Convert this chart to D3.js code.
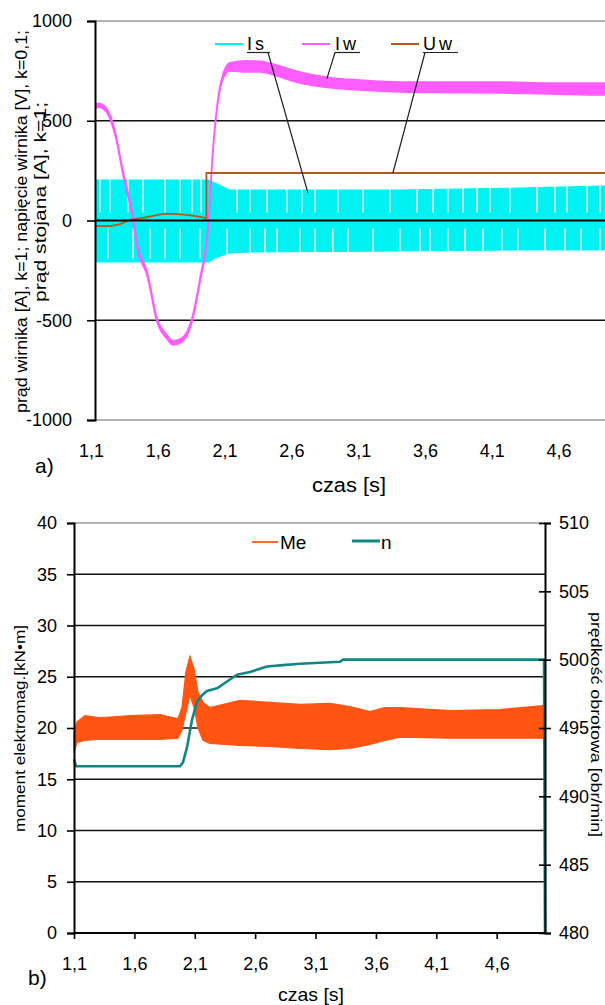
<!DOCTYPE html>
<html><head><meta charset="utf-8">
<script src="https://cdn.jsdelivr.net/npm/d3@7"></script>
<style>
body{margin:0;background:#fff}
svg{display:block}
text{font-family:"Liberation Sans",Arial,sans-serif;fill:#000}
</style>
</head><body>
<svg id="c" width="605" height="1005"></svg>
<script>
// ---------------- DATA ----------------
const timeTicks = [1.1, 1.6, 2.1, 2.6, 3.1, 3.6, 4.1, 4.6];
const timeTickLabels = ["1,1", "1,6", "2,1", "2,6", "3,1", "3,6", "4,1", "4,6"];

// chart a)
const topYTicks = [-1000, -500, 0, 500, 1000];
const topSeriesNames = ["Is", "Iw", "Uw"];

// Is (stator current) envelope
const isT  = [1.13, 1.964, 1.985, 2.028, 2.14, 2.29, 3.413, 4.311, 4.95, 5.0];
const isHi = [203, 203, 203, 188, 153, 153, 153, 163, 173, 173];
const isLo = [-208, -208, -208, -188, -163, -158, -153, -148, -148, -148];
// thin white sampling gaps visible in the Is band
const isGapUp = [1.167, 1.242, 1.377, 1.489, 1.654, 1.766, 1.856, 1.923, 2.193, 2.290, 2.417, 2.567, 2.679, 2.777, 2.949, 3.136, 3.338, 3.540, 3.660, 3.772, 3.884, 3.989, 4.087, 4.236, 4.438, 4.573, 4.663, 4.813, 4.910];
const isGapDown = [1.227, 1.414, 1.542, 1.654, 1.766, 1.916, 2.118, 2.290, 2.402, 2.492, 2.664, 2.777, 2.910, 3.024, 3.211, 3.413, 3.563, 3.638, 3.772, 3.899, 4.034, 4.176, 4.296, 4.498, 4.648, 4.768, 4.910];

// Iw (rotor current) band
const iwT  = [1.13, 1.16, 1.19, 1.22, 1.28, 1.34, 1.407, 1.452, 1.519, 1.594, 1.669, 1.714, 1.781, 1.856, 1.916, 1.975, 2.013, 2.051, 2.088, 2.14, 2.268, 2.365, 2.515, 2.664, 2.911, 3.113, 3.413, 3.787, 4.161, 4.536, 4.947, 5.0];
const iwHi = [584, 588, 580, 560, 449, 248, 48, -138, -253, -489, -574, -604, -589, -489, -288, -38, 363, 614, 734, 790, 800, 798, 774, 744, 714, 704, 694, 694, 694, 689, 689, 689];
const iwLo = [564, 568, 560, 540, 429, 228, 28, -158, -273, -509, -594, -624, -609, -509, -308, -58, 343, 594, 709, 750, 745, 745, 719, 689, 664, 654, 644, 641, 639, 634, 629, 629];

// Uw (rotor voltage, k=0.1)
const uwT = [1.13, 1.242, 1.317, 1.392, 1.489, 1.564, 1.639, 1.729, 1.819, 1.916, 1.953, 1.964, 1.964, 5.0];
const uwV = [-28, -28, -18, 3, 13, 23, 33, 33, 28, 18, 13, 13, 238, 238];

// callout anchors (t, value) for the series labels
const calloutT = [2.724, 2.866, 3.36];
const calloutV = [138, 711, 238];

// chart b)
const botLeftTicks = [0, 5, 10, 15, 20, 25, 30, 35, 40];
const botRightTicks = [480, 485, 490, 495, 500, 505, 510];
const botSeriesNames = ["Me", "n"];

// Me (electromagnetic torque) band
const meT  = [1.1, 1.125, 1.191, 1.315, 1.564, 1.812, 1.961, 1.994, 2.027, 2.06, 2.094, 2.127, 2.168, 2.226, 2.475, 2.723, 2.971, 3.22, 3.385, 3.551, 3.675, 3.799, 4.213, 4.627, 5.0];
const meHi = [19.6, 20.6, 21.2, 21.0, 21.2, 21.3, 20.9, 22.0, 25.5, 27.0, 25.8, 23.5, 22.5, 22.0, 22.7, 22.5, 22.3, 22.4, 22.1, 21.6, 22.0, 22.0, 21.7, 21.8, 22.2];
const meLo = [17.6, 18.6, 18.8, 18.9, 18.9, 18.9, 19.0, 19.8, 21.5, 23.2, 22.0, 20.0, 18.8, 18.5, 18.3, 18.2, 18.0, 17.9, 18.0, 18.4, 18.8, 19.1, 19.0, 19.0, 19.0];

// n (speed, obr/min)
const nT = [1.1, 1.117, 1.978, 2.003, 2.036, 2.077, 2.118, 2.16, 2.201, 2.284, 2.367, 2.45, 2.557, 2.698, 2.831, 2.971, 3.303, 3.327, 4.917, 4.992, 5.0];
const nV = [492.7, 492.2, 492.2, 492.5, 493.6, 495.6, 496.9, 497.4, 497.7, 497.9, 498.4, 498.9, 499.1, 499.5, 499.6, 499.7, 499.85, 500.0, 500.0, 500.0, 480];

// ---------------- DRAW ----------------
const svg = d3.select('#c');
svg.append('rect').attr('width', 605).attr('height', 1005).attr('fill', '#fff');
const zip3 = (t, a, b) => t.map((d, i) => ({t: d, a: a[i], b: b ? b[i] : null}));

const C = {is: '#00f2f2', iw: '#ff5cff', uw: '#b8561e', me: '#ff5412', n: '#138585'};

// ===== chart a) =====
const TA = {l: 95, r: 605, t: 21, b: 420};
const xTop = d3.scaleLinear().domain([1.1, 5.0]).range([91, 612]);
const yTop = d3.scaleLinear().domain([-1000, 1000]).range([TA.b, TA.t]);
const gA = svg.append('g');
gA.append('clipPath').attr('id', 'clipA').append('rect')
  .attr('x', TA.l).attr('y', TA.t - 3).attr('width', TA.r - TA.l).attr('height', TA.b - TA.t + 6);

// gridlines
topYTicks.forEach(v => {
  const edge = (v === 1000 || v === -1000);
  gA.append('line').attr('x1', TA.l).attr('x2', TA.r).attr('y1', yTop(v)).attr('y2', yTop(v))
    .attr('stroke', edge ? '#9a9a9a' : '#111').attr('stroke-width', edge ? 1.5 : 1.6);
});

const pA = gA.append('g').attr('clip-path', 'url(#clipA)');
// Is band
pA.append('path').datum(zip3(isT, isHi, isLo))
  .attr('d', d3.area().x(d => xTop(d.t)).y0(d => yTop(d.b)).y1(d => yTop(d.a)))
  .attr('fill', C.is).attr('stroke', C.is).attr('stroke-width', 1);
// sampling gaps
pA.selectAll('.gu').data(isGapUp).join('line')
  .attr('x1', d => xTop(d)).attr('x2', d => xTop(d))
  .attr('y1', yTop(40)).attr('y2', yTop(260)).attr('stroke', '#fff').attr('stroke-width', 1.3);
pA.selectAll('.gd').data(isGapDown).join('line')
  .attr('x1', d => xTop(d)).attr('x2', d => xTop(d))
  .attr('y1', yTop(-40)).attr('y2', yTop(-190)).attr('stroke', '#fff').attr('stroke-width', 1.3);
// zero axis over Is
gA.append('line').attr('x1', TA.l).attr('x2', TA.r).attr('y1', yTop(0)).attr('y2', yTop(0))
  .attr('stroke', '#000').attr('stroke-width', 1.8);
// Iw band
pA.append('path').datum(zip3(iwT, iwHi, iwLo))
  .attr('d', d3.area().curve(d3.curveMonotoneX).x(d => xTop(d.t)).y0(d => yTop(d.b)).y1(d => yTop(d.a)))
  .attr('fill', C.iw).attr('stroke', C.iw).attr('stroke-width', 1.6).attr('stroke-linejoin', 'round');
// Uw line
pA.append('path').datum(zip3(uwT, uwV))
  .attr('d', d3.line().x(d => xTop(d.t)).y(d => yTop(d.a)))
  .attr('fill', 'none').attr('stroke', C.uw).attr('stroke-width', 1.8);

// left axis
const axA = gA.append('g').attr('transform', `translate(${TA.l},0)`)
  .call(d3.axisLeft(yTop).tickValues(topYTicks).tickSize(8).tickPadding(15).tickFormat(d => String(d)));
axA.select('.domain').attr('stroke', '#000').attr('stroke-width', 2);
axA.selectAll('.tick line').attr('stroke', '#000').attr('stroke-width', 1.6);
axA.selectAll('text').attr('font-size', 18).attr('font-family', '"Liberation Sans",Arial,sans-serif').attr('fill', '#000');

// x labels
const axAx = gA.append('g').attr('transform', `translate(0,${TA.b})`)
  .call(d3.axisBottom(xTop).tickValues(timeTicks).tickSize(0).tickPadding(24).tickFormat((d, i) => timeTickLabels[i]));
axAx.select('.domain').remove();
axAx.selectAll('text').attr('font-size', 18).attr('font-family', '"Liberation Sans",Arial,sans-serif').attr('fill', '#000');

// legend with callouts
const legA = [
  {name: topSeriesNames[0], c: C.is, lx: 215, tx: 247, ul: 23, from: 268},
  {name: topSeriesNames[1], c: C.iw, lx: 302, tx: 335, ul: 25, from: 335},
  {name: topSeriesNames[2], c: C.uw, lx: 391, tx: 423, ul: 35, from: 425}
];
legA.forEach((d, i) => {
  gA.append('line').attr('x1', d.lx).attr('x2', d.lx + 28).attr('y1', 44).attr('y2', 44)
    .attr('stroke', d.c).attr('stroke-width', 2);
  gA.append('text').attr('x', d.tx).attr('y', 50).attr('font-size', 18).attr('letter-spacing', 3).text(d.name);
  gA.append('line').attr('x1', d.tx).attr('x2', d.tx + d.ul).attr('y1', 52.5).attr('y2', 52.5)
    .attr('stroke', '#222').attr('stroke-width', 1.2);
  gA.append('line').attr('x1', d.from).attr('y1', 52.5)
    .attr('x2', xTop(calloutT[i])).attr('y2', yTop(calloutV[i]))
    .attr('stroke', '#222').attr('stroke-width', 1.2);
});

// titles
gA.append('text').attr('transform', 'translate(27,221.5) rotate(-90)').attr('text-anchor', 'middle')
  .attr('font-size', 16).attr('textLength', 383).attr('lengthAdjust', 'spacingAndGlyphs')
  .text('prąd wirnika [A], k=1; napięcie wirnika [V], k=0,1;');
gA.append('text').attr('transform', 'translate(45.5,202) rotate(-90)').attr('text-anchor', 'middle')
  .attr('font-size', 16).attr('textLength', 200).attr('lengthAdjust', 'spacingAndGlyphs')
  .text('prąd stojana [A], k=1;');
gA.append('text').attr('x', 349).attr('y', 492).attr('text-anchor', 'middle').attr('font-size', 20)
  .attr('textLength', 74).attr('lengthAdjust', 'spacingAndGlyphs').text('czas [s]');
gA.append('text').attr('x', 35).attr('y', 473).attr('font-size', 21).text('a)');

// ===== chart b) =====
const TB = {l: 74, r: 545, t: 523, b: 933};
const xBot = d3.scaleLinear().domain([1.1, 5.0]).range([TB.l, TB.r]);
const yL = d3.scaleLinear().domain([0, 40]).range([TB.b, TB.t]);
const yR = d3.scaleLinear().domain([480, 510]).range([TB.b, TB.t]);
const gB = svg.append('g');

botLeftTicks.forEach(v => {
  if (v === 0) return;
  const edge = v === 40;
  gB.append('line').attr('x1', TB.l).attr('x2', TB.r).attr('y1', yL(v)).attr('y2', yL(v))
    .attr('stroke', edge ? '#9a9a9a' : '#111').attr('stroke-width', edge ? 1.5 : 1.6);
});

// Me band
gB.append('path').datum(zip3(meT, meHi, meLo))
  .attr('d', d3.area().x(d => xBot(d.t)).y0(d => yL(d.b)).y1(d => yL(d.a)))
  .attr('fill', C.me).attr('stroke', C.me).attr('stroke-width', 1.2);
// n line
gB.append('path').datum(zip3(nT, nV))
  .attr('d', d3.line().x(d => xBot(d.t)).y(d => yR(d.a)))
  .attr('fill', 'none').attr('stroke', C.n).attr('stroke-width', 2.6).attr('stroke-linejoin', 'round');

// axes
const axBL = gB.append('g').attr('transform', `translate(${TB.l},0)`)
  .call(d3.axisLeft(yL).tickValues(botLeftTicks).tickSize(7).tickPadding(10).tickFormat(d => String(d)));
const axBR = gB.append('g').attr('transform', `translate(${TB.r},0)`)
  .call(d3.axisRight(yR).tickValues(botRightTicks).tickSize(6).tickPadding(8).tickFormat(d => String(d)));
axBR.selectAll('.tick line').attr('x1', -6);
const axBX = gB.append('g').attr('transform', `translate(0,${TB.b})`)
  .call(d3.axisBottom(xBot).tickValues(timeTicks).tickSize(6).tickPadding(18).tickFormat((d, i) => timeTickLabels[i]));
[axBL, axBR, axBX].forEach(a => {
  a.select('.domain').attr('stroke', '#000').attr('stroke-width', 2);
  a.selectAll('.tick line').attr('stroke', '#000').attr('stroke-width', 1.6);
  a.selectAll('text').attr('font-size', 18).attr('font-family', '"Liberation Sans",Arial,sans-serif').attr('fill', '#000');
});
axBX.select('.domain').attr('d', `M${TB.l},0H${TB.r}`);

// legend
gB.append('line').attr('x1', 252).attr('x2', 278).attr('y1', 542).attr('y2', 542).attr('stroke', '#ff6a30').attr('stroke-width', 2);
gB.append('text').attr('x', 280).attr('y', 549).attr('font-size', 19).text(botSeriesNames[0]);
gB.append('line').attr('x1', 352).attr('x2', 380).attr('y1', 541).attr('y2', 541).attr('stroke', C.n).attr('stroke-width', 3);
gB.append('text').attr('x', 381).attr('y', 549).attr('font-size', 19).text(botSeriesNames[1]);

// titles
gB.append('text').attr('transform', 'translate(25,728.5) rotate(-90)').attr('text-anchor', 'middle')
  .attr('font-size', 15).attr('textLength', 207).attr('lengthAdjust', 'spacingAndGlyphs')
  .text('moment elektromag.[kN•m]');
gB.append('text').attr('transform', 'translate(591,724.5) rotate(90)').attr('text-anchor', 'middle')
  .attr('font-size', 14).attr('textLength', 225).attr('lengthAdjust', 'spacingAndGlyphs')
  .text('prędkość obrotowa [obr/min]');
gB.append('text').attr('x', 311).attr('y', 1001).attr('text-anchor', 'middle').attr('font-size', 19)
  .attr('textLength', 66).attr('lengthAdjust', 'spacingAndGlyphs').text('czas [s]');
gB.append('text').attr('x', 28).attr('y', 985).attr('font-size', 21).text('b)');
</script>
</body></html>
